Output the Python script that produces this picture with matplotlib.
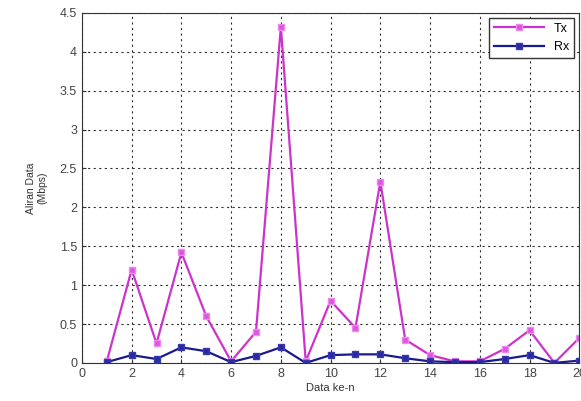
import numpy as np
import matplotlib.pyplot as plt

data_ke = [1, 2, 3, 4, 5, 6, 7, 8, 9, 10, 11, 12, 13, 14, 15, 16, 17, 18, 19, 20]
tx = [0.02, 1.2, 0.25, 1.42, 0.6, 0.02, 0.4, 4.32, 0.02, 0.8, 0.45, 2.33, 0.3, 0.1, 0.02, 0.02, 0.18, 0.42, 0.0, 0.32]
rx = [0.01, 0.1, 0.05, 0.2, 0.15, 0.01, 0.09, 0.2, 0.0, 0.1, 0.11, 0.11, 0.06, 0.02, 0.01, 0.01, 0.05, 0.1, 0.0, 0.03]

plt.rcParams['font.family'] = 'Liberation Sans'
plt.rcParams['font.size'] = 8

fig = plt.figure(figsize=(5.81, 4.01), dpi=100)
ax = fig.add_axes([0.141, 0.095, 0.856, 0.873])

ax.plot(data_ke, tx, c="#cc33cc", lw=1.6, marker="s", ms=4, mfc="#dd55dd", mec="#ee88ee", label="Tx")
ax.plot(data_ke, rx, c="#1a1a8c", lw=1.6, marker="s", ms=4, mfc="#2a2aa0", mec="#3a3ab0", label="Rx")

ax.set_xlim(0, 20)
ax.set_ylim(0, 4.5)
ax.set_xticks(np.arange(0, 21, 2))
ax.set_yticks(np.arange(0, 4.6, 0.5))
ax.set_yticklabels(["0", "0.5", "1", "1.5", "2", "2.5", "3", "3.5", "4", "4.5"])
ax.grid(True, ls=(0, (2, 3)), c="#333333", lw=0.8)
ax.tick_params(direction="in", length=3, colors="#333333", labelcolor="#444444", labelsize=9)
for s in ax.spines.values():
    s.set_color("#333333")

ax.set_xlabel("Data ke-n", color="#333333", labelpad=2)
ax.set_ylabel("Aliran Data\n(Mbps)", color="#333333", labelpad=9, fontsize=7.5)
ax.legend(loc="upper right", fancybox=False, edgecolor="#333333", framealpha=1,
          handlelength=4, fontsize=9, borderaxespad=0.4)

plt.savefig("out.png", dpi=100)
